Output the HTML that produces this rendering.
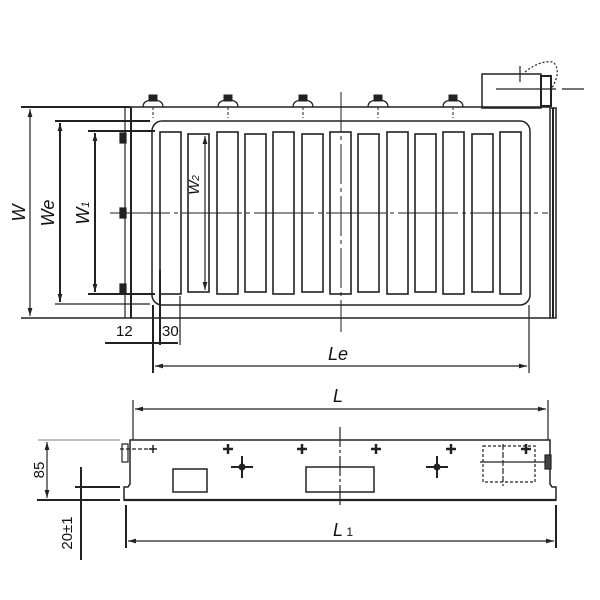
<!DOCTYPE html>
<html><head><meta charset="utf-8"><style>
html,body{margin:0;padding:0;background:#fff}
svg{display:block}
text{font-family:"Liberation Sans",sans-serif;fill:#111}
</style></head><body>
<svg width="600" height="600" viewBox="0 0 600 600" xmlns="http://www.w3.org/2000/svg">
<defs>
<marker id="a" viewBox="0 0 10 10" refX="10" refY="5" markerWidth="8" markerHeight="8" markerUnits="userSpaceOnUse" orient="auto-start-reverse"><path d="M0,2 L10,5 L0,8 z" fill="#222"/></marker>
</defs>
<g stroke="#222" fill="none" stroke-width="1.2">
<line x1="21" y1="107" x2="130" y2="107" stroke-width="2"/>
<line x1="130" y1="107" x2="550" y2="107" stroke-width="1.5"/>
<line x1="21" y1="318" x2="550" y2="318" stroke-width="1.5"/>
<line x1="125" y1="107" x2="125" y2="318"/>
<line x1="131" y1="107" x2="131" y2="318" stroke-width="2"/>
<rect x="550" y="108" width="6" height="210" stroke-width="1.5"/>
<line x1="553" y1="108" x2="553" y2="318" stroke-width="2"/>
<line x1="55" y1="121" x2="150" y2="121" stroke-width="2"/>
<line x1="55" y1="304" x2="150" y2="304" stroke-width="1.2"/>
<line x1="88" y1="131" x2="155" y2="131" stroke-width="2"/>
<line x1="88" y1="294" x2="155" y2="294" stroke-width="2"/>
<rect x="152" y="121" width="378" height="184" rx="10" stroke-width="1.5"/>
<line x1="30" y1="109" x2="30" y2="316" marker-start="url(#a)" marker-end="url(#a)"/>
<line x1="60" y1="123" x2="60" y2="302" marker-start="url(#a)" marker-end="url(#a)" stroke-width="2"/>
<line x1="95" y1="133" x2="95" y2="292" marker-start="url(#a)" marker-end="url(#a)" stroke-width="2"/>
<line x1="205" y1="136" x2="205" y2="290" marker-start="url(#a)" marker-end="url(#a)"/>
<rect x="482" y="74" width="59" height="34" stroke-width="1.5"/>
<rect x="541" y="76" width="10" height="30" stroke-width="2"/>
<line x1="520" y1="66" x2="520" y2="82"/>
<path d="M525 72 Q540 60 553 62 Q562 70 552 88" stroke-dasharray="2,2"/>
<line x1="496" y1="89" x2="556" y2="89"/>
<line x1="562" y1="89" x2="584" y2="89"/>
<line x1="110" y1="213" x2="548" y2="213" stroke-dasharray="60,4,4,4" stroke-width="1"/>
<line x1="341" y1="92" x2="341" y2="332" stroke-dasharray="40,4,4,4" stroke-width="1"/>
<rect x="120" y="133" width="6" height="10" fill="#222"/>
<rect x="120" y="208" width="6" height="10" fill="#222"/>
<rect x="120" y="284" width="6" height="10" fill="#222"/>
<line x1="105" y1="343" x2="178" y2="343" stroke-width="2"/>
<line x1="153" y1="305" x2="153" y2="373" stroke-width="2"/>
<line x1="160" y1="270" x2="160" y2="345" stroke-width="2"/>
<line x1="180" y1="296" x2="180" y2="345"/>
<line x1="529" y1="305" x2="529" y2="373"/>
<line x1="155" y1="366" x2="527" y2="366" marker-start="url(#a)" marker-end="url(#a)"/>
<line x1="133" y1="400" x2="133" y2="440"/>
<line x1="548" y1="400" x2="548" y2="440"/>
<line x1="135" y1="409" x2="546" y2="409" marker-start="url(#a)" marker-end="url(#a)"/>
<path d="M130 440 L550 440 L550 484 L552 487 L556 487 L556 500 L124 500 L124 487 L128 487 L130 484 Z" stroke-width="1.5"/>
<line x1="124" y1="500" x2="556" y2="500" stroke-width="2.2"/>
<rect x="122" y="444" width="6" height="18"/>
<line x1="120" y1="449" x2="153" y2="449" stroke-dasharray="4,2"/>
<rect x="173" y="469" width="34" height="23" stroke-width="1.5"/>
<rect x="306" y="467" width="68" height="25" stroke-width="1.5"/>
<line x1="340" y1="427" x2="340" y2="508" stroke-dasharray="20,3,3,3"/>
<rect x="483" y="446" width="52" height="36" stroke-dasharray="3,2"/>
<line x1="480" y1="462" x2="545" y2="462"/>
<line x1="503" y1="444" x2="503" y2="486" stroke-dasharray="6,2"/>
<rect x="545" y="455" width="6" height="14" fill="#444"/>
<line x1="38" y1="440" x2="120" y2="440" stroke="#999"/>
<line x1="37" y1="500" x2="120" y2="500" stroke-width="2"/>
<line x1="75" y1="487" x2="120" y2="487" stroke-width="2"/>
<line x1="81" y1="467" x2="81" y2="560" stroke-width="2"/>
<line x1="47" y1="442" x2="47" y2="498" marker-start="url(#a)" marker-end="url(#a)"/>
<line x1="126" y1="505" x2="126" y2="548" stroke-width="2"/>
<line x1="556" y1="505" x2="556" y2="548" stroke-width="2"/>
<line x1="128" y1="541" x2="554" y2="541" marker-start="url(#a)" marker-end="url(#a)"/>
</g>
<g stroke="#222" fill="none" stroke-width="1.6">
<rect x="160" y="132" width="21" height="162"/>
<rect x="188" y="134" width="21" height="158"/>
<rect x="217" y="132" width="21" height="162"/>
<rect x="245" y="134" width="21" height="158"/>
<rect x="273" y="132" width="21" height="162"/>
<rect x="302" y="134" width="21" height="158"/>
<rect x="330" y="132" width="21" height="162"/>
<rect x="358" y="134" width="21" height="158"/>
<rect x="387" y="132" width="21" height="162"/>
<rect x="415" y="134" width="21" height="158"/>
<rect x="443" y="132" width="21" height="162"/>
<rect x="472" y="134" width="21" height="158"/>
<rect x="500" y="132" width="21" height="162"/>
</g>
<g fill="#222" stroke="#222">
<g id="bolt"><path d="M143 107 Q143 100 153 100 Q163 100 163 107" fill="none" stroke-width="1.3"/><rect x="149" y="95" width="8" height="6"/><line x1="153" y1="107" x2="153" y2="118" stroke-width="1" stroke-dasharray="3,2"/></g>
<use href="#bolt" x="75"/><use href="#bolt" x="150"/><use href="#bolt" x="225"/><use href="#bolt" x="300"/>
<g stroke-width="2.5">
<path d="M228 444v10M223 449h10M302 444v10M297 449h10M376 444v10M371 449h10M451 444v10M446 449h10M526 444v10M521 449h10"/>
<path d="M153 445v8M149 449h8" stroke-width="1.5"/>
<path d="M242 456v22M231 467h22M437 456v22M426 467h22" stroke-width="2"/>
</g>
<circle cx="242" cy="467" r="3"/><circle cx="437" cy="467" r="3"/>
</g>
<g font-size="18" font-style="italic">
<text transform="translate(25,213) rotate(-90)" text-anchor="middle">W</text>
<text transform="translate(54,213) rotate(-90)" text-anchor="middle">We</text>
<text transform="translate(89,213) rotate(-90)" text-anchor="middle">W<tspan font-size="11">1</tspan></text>
<text transform="translate(199,185) rotate(-90)" text-anchor="middle" font-size="15">W<tspan font-size="10">2</tspan></text>
<text x="328" y="360">Le</text>
<text x="333" y="402">L</text>
<text x="333" y="536">L<tspan font-size="12" font-style="normal"> 1</tspan></text>
</g>
<g font-size="15">
<text x="116" y="336">12</text>
<text x="162" y="336">30</text>
<text transform="translate(44,470) rotate(-90)" text-anchor="middle">85</text>
<text transform="translate(72,533) rotate(-90)" text-anchor="middle">20±1</text>
</g>
</svg>
</body></html>
